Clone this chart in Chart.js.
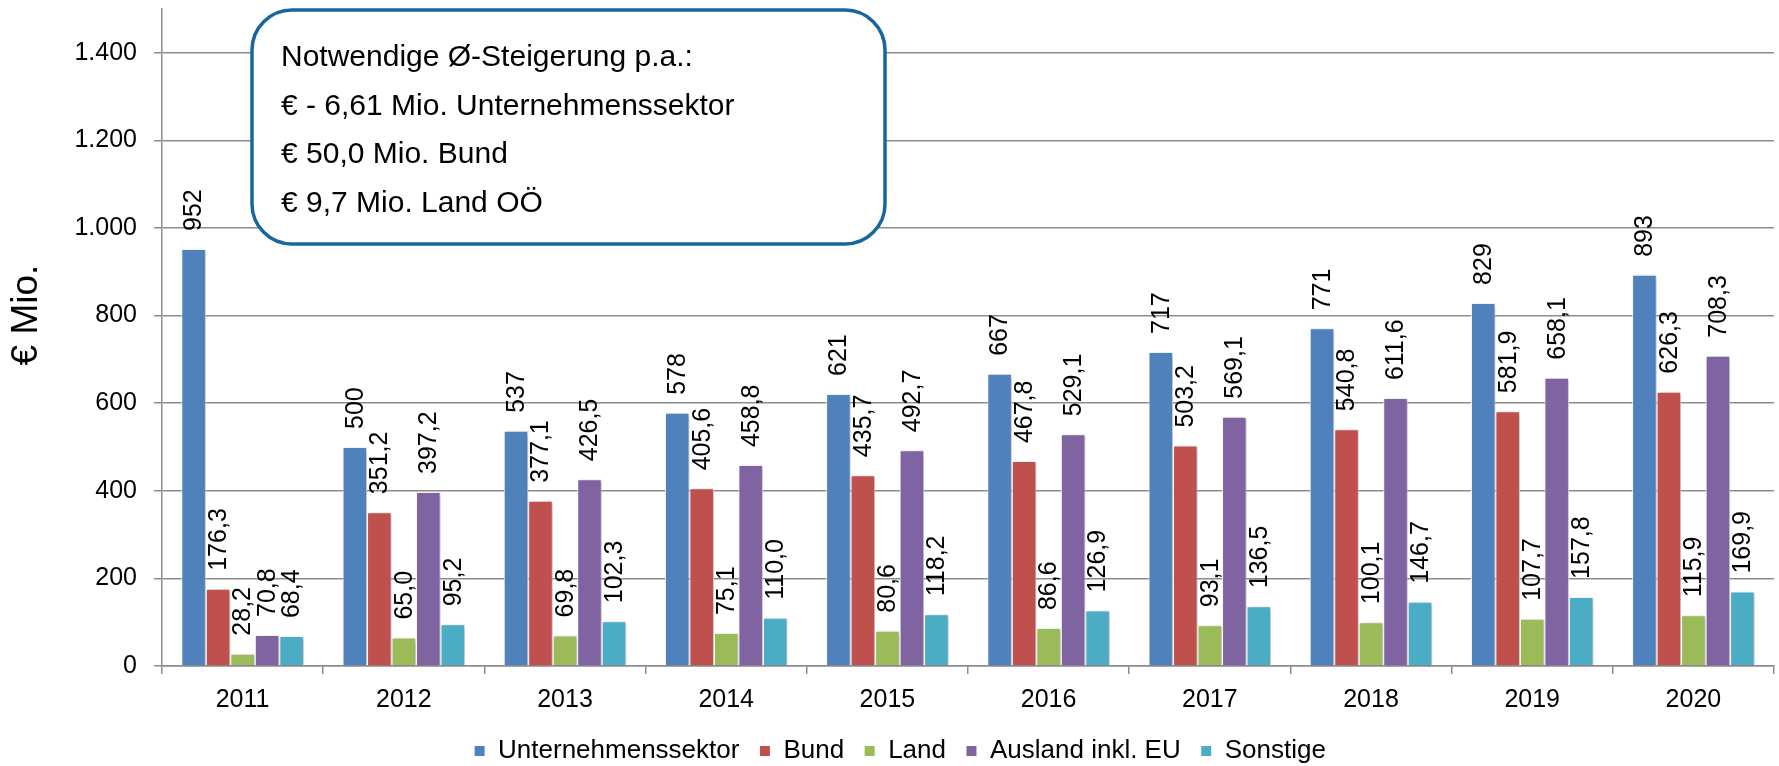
<!DOCTYPE html>
<html>
<head>
<meta charset="utf-8">
<script src="https://cdn.jsdelivr.net/npm/chart.js@4.4.1/dist/chart.umd.min.js"></script>
<style>
  html, body { margin: 0; padding: 0; background: #ffffff; }
  #c { display: block; }
</style>
</head>
<body>
<canvas id="c" width="1779" height="766"></canvas>
<script>
// ---- data ----
const categories = ['2011', '2012', '2013', '2014', '2015', '2016', '2017', '2018', '2019', '2020'];
const seriesNames = ['Unternehmenssektor', 'Bund', 'Land', 'Ausland inkl. EU', 'Sonstige'];
const unternehmenssektor = [952, 500, 537, 578, 621, 667, 717, 771, 829, 893];
const bund = [176.3, 351.2, 377.1, 405.6, 435.7, 467.8, 503.2, 540.8, 581.9, 626.3];
const land = [28.2, 65.0, 69.8, 75.1, 80.6, 86.6, 93.1, 100.1, 107.7, 115.9];
const ausland = [70.8, 397.2, 426.5, 458.8, 492.7, 529.1, 569.1, 611.6, 658.1, 708.3];
const sonstige = [68.4, 95.2, 102.3, 110.0, 118.2, 126.9, 136.5, 146.7, 157.8, 169.9];
const labelDecimals = [0, 1, 1, 1, 1];
const yMin = 0, yMax = 1500, yStep = 200;
const yTitle = '€ Mio.';
const noteLines = [
  'Notwendige Ø-Steigerung p.a.:',
  '€ - 6,61 Mio. Unternehmenssektor',
  '€ 50,0 Mio. Bund',
  '€ 9,7 Mio. Land OÖ'
];

// ---- styles ----
const seriesColors = ['#4F81BD', '#C0504D', '#9BBB59', '#8064A2', '#4BACC6'];
const FONT = '"Liberation Sans", Arial, Helvetica, sans-serif';
const gridColor = '#8c8c8c';

const seriesValues = [unternehmenssektor, bund, land, ausland, sonstige];

function fmtThousands(v) {
  return String(v).replace(/\B(?=(\d{3})+(?!\d))/g, '.');
}
function fmtLabel(v, d) {
  return v.toFixed(d).replace('.', ',');
}

const shadowPlugin = {
  id: 'barShadow',
  beforeDatasetsDraw(chart) {
    const ctx = chart.ctx;
    ctx.save();
    ctx.shadowColor = 'rgba(0,0,0,0.28)';
    ctx.shadowBlur = 4;
    ctx.shadowOffsetX = 2;
    ctx.shadowOffsetY = 1;
  },
  afterDatasetsDraw(chart) {
    chart.ctx.restore();
  }
};

const valueLabelPlugin = {
  id: 'valueLabels',
  afterDatasetsDraw(chart) {
    const ctx = chart.ctx;
    ctx.save();
    ctx.fillStyle = '#000';
    ctx.font = '25px ' + FONT;
    ctx.textAlign = 'left';
    ctx.textBaseline = 'middle';
    chart.data.datasets.forEach((ds, di) => {
      const meta = chart.getDatasetMeta(di);
      meta.data.forEach((el, i) => {
        const txt = fmtLabel(ds.data[i], labelDecimals[di]);
        ctx.save();
        ctx.translate(el.x + 1, el.y - 18);
        ctx.rotate(-Math.PI / 2);
        ctx.fillText(txt, 0, 0);
        ctx.restore();
      });
    });
    ctx.restore();
  }
};

const notePlugin = {
  id: 'noteBox',
  afterDraw(chart) {
    const ctx = chart.ctx;
    const a = chart.chartArea;
    const x = a.left + 90, y = a.top + 1, w = 633, h = 234, r = 40;
    ctx.save();
    ctx.beginPath();
    ctx.roundRect(x, y, w, h, r);
    ctx.fillStyle = '#ffffff';
    ctx.fill();
    ctx.lineWidth = 3.5;
    ctx.strokeStyle = '#17679E';
    ctx.stroke();
    ctx.fillStyle = '#000';
    ctx.font = '30px ' + FONT;
    ctx.textAlign = 'left';
    ctx.textBaseline = 'middle';
    noteLines.forEach((t, i) => {
      ctx.fillText(t, x + 29, y + 48 + i * 48.5);
    });
    ctx.restore();
  }
};

const yTitlePlugin = {
  id: 'yTitle',
  afterDraw(chart) {
    const ctx = chart.ctx;
    const a = chart.chartArea;
    ctx.save();
    ctx.fillStyle = '#000';
    ctx.font = '37px ' + FONT;
    ctx.textAlign = 'center';
    ctx.textBaseline = 'middle';
    ctx.translate(27, a.top + 306);
    ctx.rotate(-Math.PI / 2);
    ctx.fillText(yTitle, 0, 0);
    ctx.restore();
  }
};

new Chart(document.getElementById('c'), {
  type: 'bar',
  data: {
    labels: categories,
    datasets: seriesNames.map((n, i) => ({
      label: n,
      data: seriesValues[i],
      backgroundColor: seriesColors[i],
      borderColor: '#ffffff',
      borderWidth: 1,
      borderSkipped: 'start',
      categoryPercentage: 0.76,
      barPercentage: 1.0
    }))
  },
  options: {
    responsive: false,
    animation: false,
    devicePixelRatio: 1,
    layout: { padding: { top: 9, right: 5, left: 26, bottom: -8 } },
    plugins: {
      legend: {
        position: 'bottom',
        labels: {
          boxWidth: 11,
          boxHeight: 11,
          padding: 20,
          color: '#000',
          font: { size: 26, family: FONT }
        }
      },
      tooltip: { enabled: false },
      title: { display: false }
    },
    scales: {
      x: {
        grid: { offset: true, drawOnChartArea: false, drawTicks: true, tickLength: 8, color: gridColor, lineWidth: 1.5 },
        border: { display: true, color: gridColor, width: 1.5 },
        ticks: { color: '#000', font: { size: 25, family: FONT }, padding: 11, maxRotation: 0, autoSkip: false },
        afterFit(s) { s.height = 52; s.paddingLeft = 0; s.paddingRight = 0; }
      },
      y: {
        min: yMin,
        max: yMax,
        ticks: {
          stepSize: yStep,
          includeBounds: false,
          padding: 17,
          color: '#000',
          font: { size: 25, family: FONT },
          callback: (v) => fmtThousands(v)
        },
        grid: { color: gridColor, lineWidth: 1.5, tickLength: 8 },
        border: { display: true, color: gridColor, width: 1.5 },
        afterFit(s) { s.width = 136; s.paddingTop = 0; s.paddingBottom = 0; }
      }
    }
  },
  plugins: [shadowPlugin, valueLabelPlugin, notePlugin, yTitlePlugin]
});
</script>
</body>
</html>
